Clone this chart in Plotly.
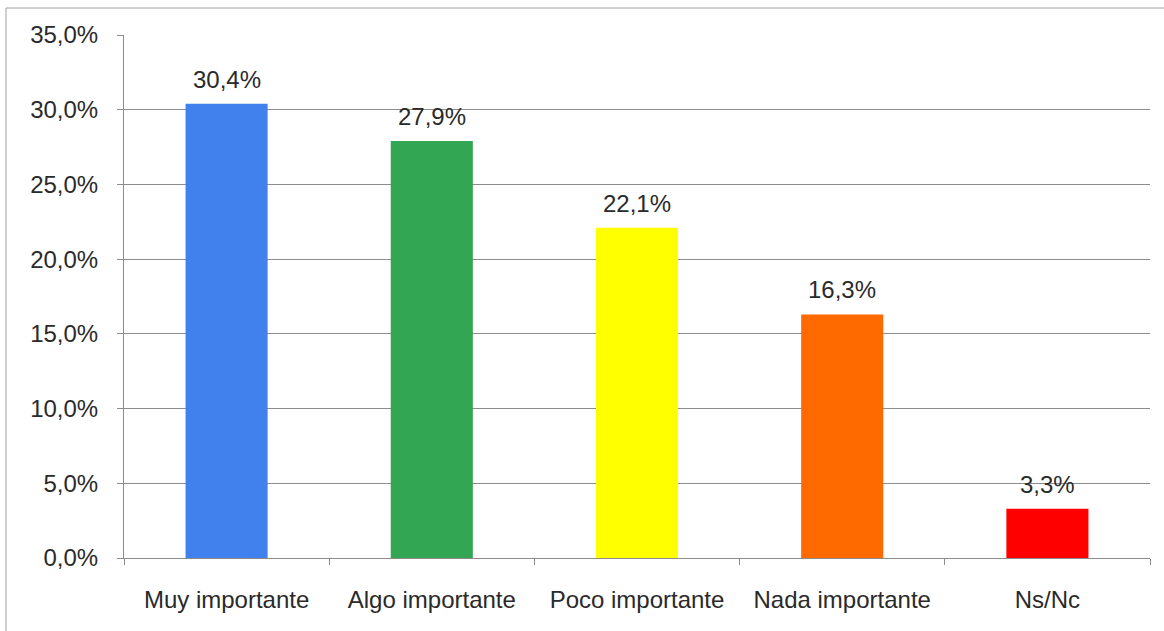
import plotly.graph_objects as go

# Survey results: importance ratings (share of respondents)
categories = ["Muy importante", "Algo importante", "Poco importante", "Nada importante", "Ns/Nc"]
shares = [0.304, 0.279, 0.221, 0.163, 0.033]
bar_colors = ["#4181EE", "#33A653", "#FFFF00", "#FF6A00", "#FF0000"]

y_ticks = [0, 0.05, 0.10, 0.15, 0.20, 0.25, 0.30, 0.35]

FONT = "Liberation Sans, Arial, sans-serif"
FS = 24
TEXT_COLOR = "#2a2a2a"
GRID = "#8c8c8c"

W, H = 1164, 631
M_L, M_R, M_T, M_B = 124, 14, 35, 73
plot_w = W - M_L - M_R
plot_h = H - M_T - M_B

fig = go.Figure(
    go.Bar(
        x=categories,
        y=shares,
        marker=dict(color=bar_colors, line=dict(width=0)),
        hoverinfo="x+y",
    )
)

# Value labels above each bar
for cat, v in zip(categories, shares):
    fig.add_annotation(
        x=cat, y=v,
        text=f"{v*100:.1f}%".replace(".", ","),
        showarrow=False,
        yanchor="bottom",
        yshift=9,
        font=dict(family=FONT, size=FS, color=TEXT_COLOR),
    )

fig.update_layout(
    width=W,
    height=H,
    margin=dict(l=M_L, r=M_R, t=M_T, b=M_B),
    paper_bgcolor="white",
    plot_bgcolor="white",
    bargap=0.6,
    separators=",.",
    showlegend=False,
    font=dict(family=FONT, size=FS, color=TEXT_COLOR),
)

fig.update_xaxes(
    type="category",
    showline=True,
    linecolor=GRID,
    linewidth=1,
    ticks="outside",
    tickson="boundaries",
    ticklen=6,
    tickcolor=GRID,
    tickfont=dict(family=FONT, size=FS, color=TEXT_COLOR),
    showgrid=False,
    ticklabelstandoff=20,
)

fig.update_yaxes(
    range=[0, 0.35],
    tickvals=y_ticks,
    tickformat=".1%",
    showline=True,
    linecolor=GRID,
    linewidth=1,
    ticks="outside",
    ticklen=6,
    tickcolor=GRID,
    showgrid=True,
    gridcolor=GRID,
    gridwidth=1,
    zeroline=False,
    tickfont=dict(family=FONT, size=FS, color=TEXT_COLOR),
    ticklabelstandoff=14,
)

# Chart-area frame (left and top edges visible, right/bottom run off the page)
def px_x(px):
    return (px - M_L) / plot_w

def px_y(py):
    return (H - M_B - py) / plot_h

fig.add_shape(
    type="rect",
    xref="paper", yref="paper",
    x0=px_x(6), x1=px_x(1170),
    y0=px_y(640), y1=px_y(8),
    line=dict(color="#a0a0a0", width=1),
    fillcolor="rgba(0,0,0,0)",
    layer="below",
)

fig.write_html("out.html")
